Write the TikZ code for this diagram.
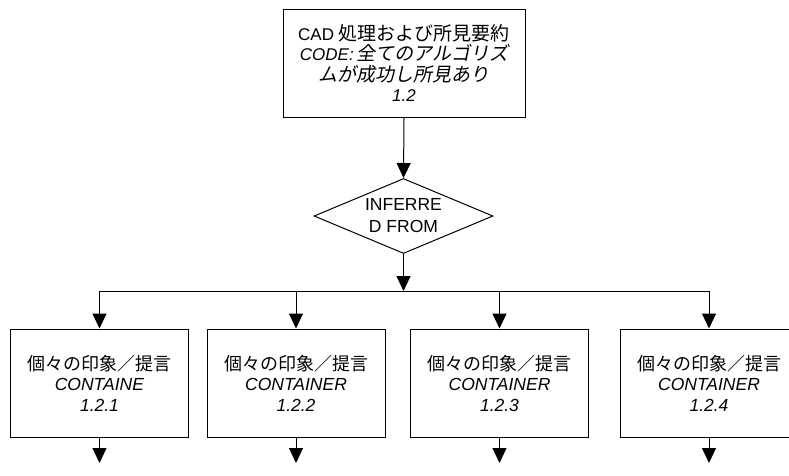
\documentclass[tikz,border=0pt]{standalone}
\usepackage{fontspec}
\setmainfont{Liberation Sans}
\newfontfamily\jp{Noto Sans CJK JP}
\newfontfamily\jpsl[FakeSlant=0.2]{Noto Sans CJK JP}
\usetikzlibrary{shapes.geometric,arrows.meta}
\begin{document}
\begin{tikzpicture}[x=1pt,y=-1pt,
  boxstyle/.style={draw, line width=1pt, minimum width=178pt, minimum height=108pt,
    align=center, inner sep=0pt, font=\fontsize{17.5}{20.5}\selectfont},
  decstyle/.style={draw, diamond, shape aspect=2.4, line width=1pt, minimum width=179pt,
    minimum height=75pt, inner sep=0pt, align=center, font=\fontsize{17.5}{22}\selectfont},
  arr/.style={-{Triangle[width=14pt,length=15pt]}, line width=1pt},
  ln/.style={line width=1pt}]
\useasboundingbox (0,0) rectangle (789,475);
\clip (0,0) rectangle (789,475);
\node[boxstyle, minimum width=242pt, font=\fontsize{17}{20.5}\selectfont] (top) at (404,63)
  {CAD {\jp\fontsize{19}{20.5}\selectfont 処理および所見要約}\\ \textit{CODE:}\,{\jpsl\fontsize{19}{20.5}\selectfont 全てのアルゴリズ}\\ {\jpsl\fontsize{19}{20.5}\selectfont ムが成功し所見あり}\\ \textit{1.2}};
\node[decstyle] (dec) at (403.5,216) {INFERRE\\D FROM};
\coordinate (junc) at (403.5,291);
\node[boxstyle] (b1) at (99.5,383) {{\jp\fontsize{18}{20.5}\selectfont 個々の印象／提言}\\ \textit{CONTAINE}\\ \textit{1.2.1}};
\node[boxstyle] (b2) at (296,383) {{\jp\fontsize{18}{20.5}\selectfont 個々の印象／提言}\\ \textit{CONTAINER}\\ \textit{1.2.2}};
\node[boxstyle] (b3) at (499.5,383) {{\jp\fontsize{18}{20.5}\selectfont 個々の印象／提言}\\ \textit{CONTAINER}\\ \textit{1.2.3}};
\node[boxstyle] (b4) at (709,383) {{\jp\fontsize{18}{20.5}\selectfont 個々の印象／提言}\\ \textit{CONTAINER}\\ \textit{1.2.4}};
\coordinate (e1) at (99.5,463);
\coordinate (e2) at (296,463);
\coordinate (e3) at (499.5,463);
\coordinate (e4) at (709,463);
\draw[arr] (top.south) -- (dec.north);
\draw[arr] (dec.south) -- (junc);
\draw[ln] (b1.north |- junc) -- (b4.north |- junc);
\foreach \b in {b1,b2,b3,b4} { \draw[arr] (\b.north |- junc) -- (\b.north); }
\draw[arr] (b1.south) -- (e1);
\draw[arr] (b2.south) -- (e2);
\draw[arr] (b3.south) -- (e3);
\draw[arr] (b4.south) -- (e4);
\end{tikzpicture}
\end{document}
